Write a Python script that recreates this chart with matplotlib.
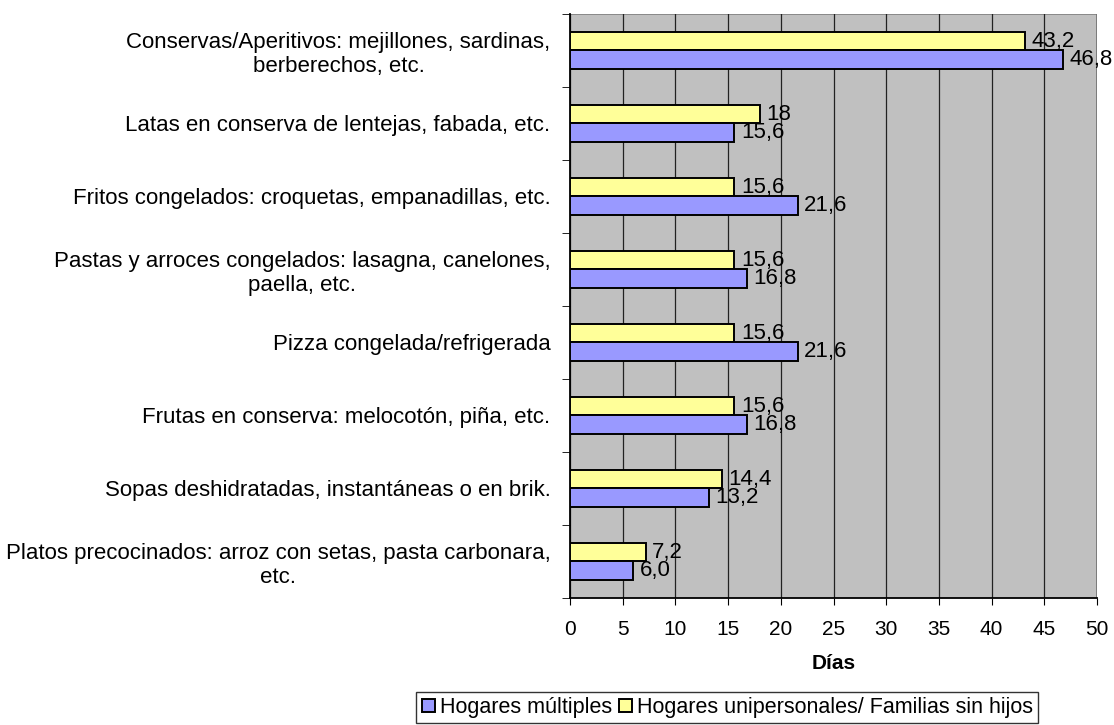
import matplotlib
matplotlib.use("Agg")
import matplotlib.pyplot as plt
import numpy as np

# ── Data (top to bottom) ─────────────────────────────────────────────────────
categories = [
    "Conservas/Aperitivos: mejillones, sardinas,\nberberechos, etc.",
    "Latas en conserva de lentejas, fabada, etc.",
    "Fritos congelados: croquetas, empanadillas, etc.",
    "Pastas y arroces congelados: lasagna, canelones,\npaella, etc.",
    "Pizza congelada/refrigerada",
    "Frutas en conserva: melocotón, piña, etc.",
    "Sopas deshidratadas, instantáneas o en brik.",
    "Platos precocinados: arroz con setas, pasta carbonara,\netc.",
]
multiples = [46.8, 15.6, 21.6, 16.8, 21.6, 16.8, 13.2, 6.0]
unipersonales = [43.2, 18, 15.6, 15.6, 15.6, 15.6, 14.4, 7.2]
multiples_lbl = ["46,8", "15,6", "21,6", "16,8", "21,6", "16,8", "13,2", "6,0"]
unipersonales_lbl = ["43,2", "18", "15,6", "15,6", "15,6", "15,6", "14,4", "7,2"]
series_names = ["Hogares múltiples", "Hogares unipersonales/ Familias sin hijos"]

C_BLUE = "#9999FF"
C_YELLOW = "#FFFF99"
C_BG = "#C0C0C0"

plt.rcParams["font.family"] = ["Liberation Sans", "DejaVu Sans"]
FS = 16

fig = plt.figure(figsize=(11.14, 7.25), dpi=100)
ax = fig.add_axes([0.5117, 0.1752, 0.4731, 0.8055])
ax.set_facecolor(C_BG)

n = len(categories)
y = np.arange(n)
h = 0.25

b_y = ax.barh(y - h / 2, unipersonales, height=h, color=C_YELLOW,
              edgecolor="black", linewidth=1.4, zorder=3)
b_b = ax.barh(y + h / 2, multiples, height=h, color=C_BLUE,
              edgecolor="black", linewidth=1.4, zorder=3)

# value labels just right of each bar
for bars, labels in ((b_y, unipersonales_lbl), (b_b, multiples_lbl)):
    for bar, txt in zip(bars, labels):
        ax.text(bar.get_width() + 0.6, bar.get_y() + bar.get_height() / 2, txt,
                ha="left", va="center", fontsize=FS, zorder=4)

ax.set_xlim(0, 50)
ax.set_ylim(n - 0.5, -0.5)
ax.set_xticks(np.arange(0, 51, 5))
ax.tick_params(axis="x", direction="out", length=5, labelsize=15, pad=11)
ax.grid(axis="x", color="#222222", linewidth=0.9, zorder=0)

ax.set_yticks(y)
ax.set_yticklabels(categories, fontsize=FS, ha="right", multialignment="center")
ax.tick_params(axis="y", length=0, pad=14)
ax.set_yticks(np.arange(-0.5, n, 1), minor=True)
ax.tick_params(axis="y", which="minor", direction="out", length=6)

for s in ("top", "right"):
    ax.spines[s].set_visible(False)
ax.spines["left"].set_linewidth(1.3)
ax.spines["bottom"].set_linewidth(1.3)
ax.axhline(-0.5, color="#808080", linewidth=1.2, zorder=1)
ax.axvline(50, color="#808080", linewidth=1.2, zorder=1)

ax.set_xlabel("Días", fontsize=15, fontweight="bold", labelpad=11)

leg = fig.legend([b_b, b_y], series_names, loc="center", bbox_to_anchor=(0.653, 0.024),
                 ncol=2, fontsize=15.5, frameon=True, fancybox=False,
                 handlelength=0.6, handleheight=0.6, handletextpad=0.25,
                 columnspacing=0.3, borderpad=0.25, borderaxespad=0)
leg.get_frame().set_edgecolor("black")
leg.get_frame().set_linewidth(1.0)

fig.savefig("out.png", dpi=100)
